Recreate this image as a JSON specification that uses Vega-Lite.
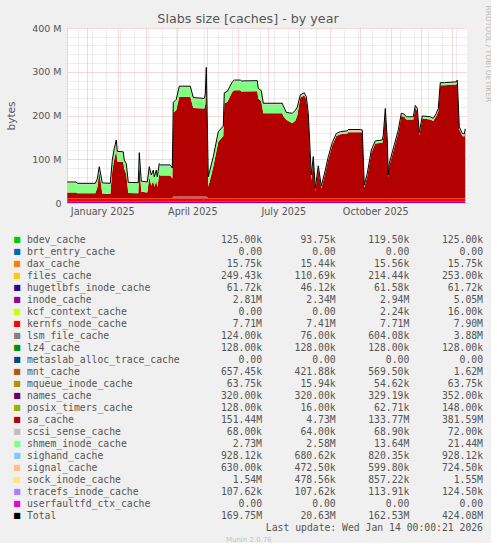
{
  "$schema": "https://vega.github.io/schema/vega-lite/v6.json",
  "background": "#F0F0F0",
  "padding": {"left": 6, "top": 5, "right": 0, "bottom": 0},
  "bounds": "flush",
  "spacing": 31,
  "title": {"text": "Munin 2.0.76", "orient": "bottom", "anchor": "middle", "fontSize": 7, "fontWeight": "normal", "color": "#C4C4C4", "offset": 3},
  "config": {"font": "DejaVu Sans", "view": {"stroke": null}},
  "vconcat": [
    {
      "width": 400,
      "height": 175,
      "view": {"fill": "#FFFFFF", "stroke": null},
      "title": {"text": "Slabs size [caches] - by year", "anchor": "middle", "frame": "group", "dx": -19, "offset": -21, "fontSize": 12.7, "fontWeight": "normal", "color": "#555555"},
      "data": {"values": [
        {"date":"2024-12-12","inode_cache":2.9,"kernfs_node_cache":7.7,"lsm_file_cache":0.1,"mnt_cache":0.6,"sa_cache":12.5,"shmem_inode_cache":21.4,"sighand_cache":0.8,"signal_cache":0.6,"sock_inode_cache":0.9,"total":48},
        {"date":"2024-12-21","inode_cache":2.9,"kernfs_node_cache":7.7,"lsm_file_cache":0.1,"mnt_cache":0.6,"sa_cache":12.5,"shmem_inode_cache":21.4,"sighand_cache":0.8,"signal_cache":0.6,"sock_inode_cache":0.9,"total":48},
        {"date":"2024-12-22","inode_cache":2.9,"kernfs_node_cache":7.7,"lsm_file_cache":0.1,"mnt_cache":0.6,"sa_cache":11.2,"shmem_inode_cache":19.7,"sighand_cache":0.8,"signal_cache":0.6,"sock_inode_cache":0.9,"total":45},
        {"date":"2025-01-09","inode_cache":2.9,"kernfs_node_cache":7.7,"lsm_file_cache":0.1,"mnt_cache":0.6,"sa_cache":11.2,"shmem_inode_cache":19.7,"sighand_cache":0.8,"signal_cache":0.6,"sock_inode_cache":0.9,"total":45},
        {"date":"2025-01-11","inode_cache":2.9,"kernfs_node_cache":7.7,"lsm_file_cache":0.1,"mnt_cache":0.6,"sa_cache":23.7,"shmem_inode_cache":17.2,"sighand_cache":0.8,"signal_cache":0.6,"sock_inode_cache":0.9,"total":55},
        {"date":"2025-01-13","inode_cache":2.9,"kernfs_node_cache":7.7,"lsm_file_cache":0.1,"mnt_cache":0.6,"sa_cache":60.9,"shmem_inode_cache":8,"sighand_cache":0.8,"signal_cache":0.6,"sock_inode_cache":0.9,"total":83},
        {"date":"2025-01-16","inode_cache":2.9,"kernfs_node_cache":7.7,"lsm_file_cache":0.1,"mnt_cache":0.6,"sa_cache":10.5,"shmem_inode_cache":21.4,"sighand_cache":0.8,"signal_cache":0.6,"sock_inode_cache":0.9,"total":46},
        {"date":"2025-01-24","inode_cache":2.9,"kernfs_node_cache":7.7,"lsm_file_cache":0.1,"mnt_cache":0.6,"sa_cache":9.5,"shmem_inode_cache":21.4,"sighand_cache":0.8,"signal_cache":0.6,"sock_inode_cache":0.9,"total":45},
        {"date":"2025-01-26","inode_cache":2.9,"kernfs_node_cache":7.7,"lsm_file_cache":0.1,"mnt_cache":0.6,"sa_cache":62.5,"shmem_inode_cache":21.4,"sighand_cache":0.8,"signal_cache":0.6,"sock_inode_cache":0.9,"total":98},
        {"date":"2025-01-28","inode_cache":2.9,"kernfs_node_cache":7.7,"lsm_file_cache":0.1,"mnt_cache":0.6,"sa_cache":89.5,"shmem_inode_cache":21.4,"sighand_cache":0.8,"signal_cache":0.6,"sock_inode_cache":0.9,"total":125},
        {"date":"2025-01-30","inode_cache":2.9,"kernfs_node_cache":7.7,"lsm_file_cache":0.1,"mnt_cache":0.6,"sa_cache":108.7,"shmem_inode_cache":21.2,"sighand_cache":0.8,"signal_cache":0.6,"sock_inode_cache":0.9,"total":144},
        {"date":"2025-01-31","inode_cache":2.9,"kernfs_node_cache":7.7,"lsm_file_cache":0.1,"mnt_cache":0.6,"sa_cache":83.7,"shmem_inode_cache":20.2,"sighand_cache":0.8,"signal_cache":0.6,"sock_inode_cache":0.9,"total":118},
        {"date":"2025-02-06","inode_cache":2.9,"kernfs_node_cache":7.7,"lsm_file_cache":0.1,"mnt_cache":0.6,"sa_cache":82.7,"shmem_inode_cache":20.2,"sighand_cache":0.8,"signal_cache":0.6,"sock_inode_cache":0.9,"total":117},
        {"date":"2025-02-07","inode_cache":2.9,"kernfs_node_cache":7.7,"lsm_file_cache":0.1,"mnt_cache":0.6,"sa_cache":66.7,"shmem_inode_cache":17.2,"sighand_cache":0.8,"signal_cache":0.6,"sock_inode_cache":0.9,"total":98},
        {"date":"2025-02-09","inode_cache":2.9,"kernfs_node_cache":7.7,"lsm_file_cache":0.1,"mnt_cache":0.6,"sa_cache":54.5,"shmem_inode_cache":21.4,"sighand_cache":0.8,"signal_cache":0.6,"sock_inode_cache":0.9,"total":90},
        {"date":"2025-02-11","inode_cache":2.9,"kernfs_node_cache":7.7,"lsm_file_cache":0.1,"mnt_cache":0.6,"sa_cache":11.5,"shmem_inode_cache":21.4,"sighand_cache":0.8,"signal_cache":0.6,"sock_inode_cache":0.9,"total":47},
        {"date":"2025-02-21","inode_cache":2.9,"kernfs_node_cache":7.7,"lsm_file_cache":0.1,"mnt_cache":0.6,"sa_cache":11.0,"shmem_inode_cache":21.4,"sighand_cache":0.8,"signal_cache":0.6,"sock_inode_cache":0.9,"total":46.5},
        {"date":"2025-02-22","inode_cache":2.9,"kernfs_node_cache":7.7,"lsm_file_cache":0.1,"mnt_cache":0.6,"sa_cache":79.5,"shmem_inode_cache":21.4,"sighand_cache":0.8,"signal_cache":0.6,"sock_inode_cache":0.9,"total":115},
        {"date":"2025-02-24","inode_cache":2.9,"kernfs_node_cache":7.7,"lsm_file_cache":0.1,"mnt_cache":0.6,"sa_cache":14.5,"shmem_inode_cache":21.4,"sighand_cache":0.8,"signal_cache":0.6,"sock_inode_cache":0.9,"total":50},
        {"date":"2025-03-02","inode_cache":2.9,"kernfs_node_cache":7.7,"lsm_file_cache":0.1,"mnt_cache":0.6,"sa_cache":12.5,"shmem_inode_cache":21.4,"sighand_cache":0.8,"signal_cache":0.6,"sock_inode_cache":0.9,"total":48},
        {"date":"2025-03-04","inode_cache":2.9,"kernfs_node_cache":7.7,"lsm_file_cache":0.1,"mnt_cache":0.6,"sa_cache":47.5,"shmem_inode_cache":21.4,"sighand_cache":0.8,"signal_cache":0.6,"sock_inode_cache":0.9,"total":83},
        {"date":"2025-03-06","inode_cache":2.9,"kernfs_node_cache":7.7,"lsm_file_cache":0.1,"mnt_cache":0.6,"sa_cache":28.5,"shmem_inode_cache":21.4,"sighand_cache":0.8,"signal_cache":0.6,"sock_inode_cache":0.9,"total":64},
        {"date":"2025-03-08","inode_cache":2.9,"kernfs_node_cache":7.7,"lsm_file_cache":0.1,"mnt_cache":0.6,"sa_cache":39.5,"shmem_inode_cache":21.4,"sighand_cache":0.8,"signal_cache":0.6,"sock_inode_cache":0.9,"total":75},
        {"date":"2025-03-09","inode_cache":2.9,"kernfs_node_cache":7.7,"lsm_file_cache":0.1,"mnt_cache":0.6,"sa_cache":25.7,"shmem_inode_cache":20.2,"sighand_cache":0.8,"signal_cache":0.6,"sock_inode_cache":0.9,"total":60},
        {"date":"2025-03-11","inode_cache":2.9,"kernfs_node_cache":7.7,"lsm_file_cache":0.1,"mnt_cache":0.6,"sa_cache":39.5,"shmem_inode_cache":21.4,"sighand_cache":0.8,"signal_cache":0.6,"sock_inode_cache":0.9,"total":75},
        {"date":"2025-03-12","inode_cache":2.9,"kernfs_node_cache":7.7,"lsm_file_cache":0.1,"mnt_cache":0.6,"sa_cache":24.7,"shmem_inode_cache":21.2,"sighand_cache":0.8,"signal_cache":0.6,"sock_inode_cache":0.9,"total":60},
        {"date":"2025-03-14","inode_cache":2.9,"kernfs_node_cache":7.7,"lsm_file_cache":0.1,"mnt_cache":0.6,"sa_cache":54.5,"shmem_inode_cache":21.4,"sighand_cache":0.8,"signal_cache":0.6,"sock_inode_cache":0.9,"total":90},
        {"date":"2025-03-15","inode_cache":2.9,"kernfs_node_cache":7.7,"lsm_file_cache":0.1,"mnt_cache":0.6,"sa_cache":51.5,"shmem_inode_cache":21.4,"sighand_cache":0.8,"signal_cache":0.6,"sock_inode_cache":0.9,"total":87},
        {"date":"2025-03-25","inode_cache":2.9,"kernfs_node_cache":7.7,"lsm_file_cache":0.1,"mnt_cache":0.6,"sa_cache":51.5,"shmem_inode_cache":21.4,"sighand_cache":0.8,"signal_cache":0.6,"sock_inode_cache":0.9,"total":87},
        {"date":"2025-03-27","inode_cache":2.9,"kernfs_node_cache":7.7,"lsm_file_cache":0.1,"mnt_cache":0.6,"sa_cache":44.5,"shmem_inode_cache":21.4,"sighand_cache":0.8,"signal_cache":0.6,"sock_inode_cache":0.9,"total":80},
        {"date":"2025-03-28","inode_cache":2.9,"kernfs_node_cache":7.7,"lsm_file_cache":3.8,"mnt_cache":0.6,"sa_cache":190.8,"shmem_inode_cache":21.4,"sighand_cache":0.8,"signal_cache":0.6,"sock_inode_cache":0.9,"total":230},
        {"date":"2025-03-31","inode_cache":2.9,"kernfs_node_cache":7.7,"lsm_file_cache":3.8,"mnt_cache":0.6,"sa_cache":197.8,"shmem_inode_cache":21.4,"sighand_cache":0.8,"signal_cache":0.6,"sock_inode_cache":0.9,"total":237},
        {"date":"2025-04-03","inode_cache":2.9,"kernfs_node_cache":7.7,"lsm_file_cache":3.8,"mnt_cache":0.6,"sa_cache":228,"shmem_inode_cache":21.2,"sighand_cache":0.8,"signal_cache":0.6,"sock_inode_cache":0.9,"total":267},
        {"date":"2025-04-14","inode_cache":2.9,"kernfs_node_cache":7.7,"lsm_file_cache":3.8,"mnt_cache":0.6,"sa_cache":228,"shmem_inode_cache":21.2,"sighand_cache":0.8,"signal_cache":0.6,"sock_inode_cache":0.9,"total":267},
        {"date":"2025-04-17","inode_cache":2.9,"kernfs_node_cache":7.7,"lsm_file_cache":3.8,"mnt_cache":0.6,"sa_cache":202,"shmem_inode_cache":21.2,"sighand_cache":0.8,"signal_cache":0.6,"sock_inode_cache":0.9,"total":241},
        {"date":"2025-04-28","inode_cache":2.9,"kernfs_node_cache":7.7,"lsm_file_cache":3.8,"mnt_cache":0.6,"sa_cache":201,"shmem_inode_cache":20.2,"sighand_cache":0.8,"signal_cache":0.6,"sock_inode_cache":0.9,"total":239},
        {"date":"2025-04-29","inode_cache":2.9,"kernfs_node_cache":7.7,"lsm_file_cache":3.8,"mnt_cache":0.6,"sa_cache":211,"shmem_inode_cache":20.2,"sighand_cache":0.8,"signal_cache":0.6,"sock_inode_cache":0.9,"total":249},
        {"date":"2025-04-30","inode_cache":2.9,"kernfs_node_cache":7.7,"lsm_file_cache":3.8,"mnt_cache":0.6,"sa_cache":270.8,"shmem_inode_cache":21.4,"sighand_cache":0.8,"signal_cache":0.6,"sock_inode_cache":0.9,"total":310},
        {"date":"2025-05-02","inode_cache":2.9,"kernfs_node_cache":7.7,"lsm_file_cache":0.1,"mnt_cache":0.6,"sa_cache":25.7,"shmem_inode_cache":20.2,"sighand_cache":0.8,"signal_cache":0.6,"sock_inode_cache":0.9,"total":60},
        {"date":"2025-05-07","inode_cache":2.9,"kernfs_node_cache":7.7,"lsm_file_cache":0.1,"mnt_cache":0.6,"sa_cache":71.7,"shmem_inode_cache":20.2,"sighand_cache":0.8,"signal_cache":0.6,"sock_inode_cache":0.9,"total":106},
        {"date":"2025-05-12","inode_cache":2.9,"kernfs_node_cache":7.7,"lsm_file_cache":0.1,"mnt_cache":0.6,"sa_cache":128.7,"shmem_inode_cache":20.2,"sighand_cache":0.8,"signal_cache":0.6,"sock_inode_cache":0.9,"total":163},
        {"date":"2025-05-17","inode_cache":2.9,"kernfs_node_cache":7.7,"lsm_file_cache":0.1,"mnt_cache":0.6,"sa_cache":141.7,"shmem_inode_cache":20.2,"sighand_cache":0.8,"signal_cache":0.6,"sock_inode_cache":0.9,"total":176},
        {"date":"2025-05-18","inode_cache":2.9,"kernfs_node_cache":7.7,"lsm_file_cache":0.1,"mnt_cache":0.6,"sa_cache":216.7,"shmem_inode_cache":21.2,"sighand_cache":0.8,"signal_cache":0.6,"sock_inode_cache":0.9,"total":252},
        {"date":"2025-05-21","inode_cache":2.9,"kernfs_node_cache":7.7,"lsm_file_cache":0.1,"mnt_cache":0.6,"sa_cache":219.7,"shmem_inode_cache":21.2,"sighand_cache":0.8,"signal_cache":0.6,"sock_inode_cache":0.9,"total":255},
        {"date":"2025-05-26","inode_cache":2.9,"kernfs_node_cache":7.7,"lsm_file_cache":0.1,"mnt_cache":0.6,"sa_cache":242.7,"shmem_inode_cache":20.2,"sighand_cache":0.8,"signal_cache":0.6,"sock_inode_cache":0.9,"total":277},
        {"date":"2025-05-28","inode_cache":2.9,"kernfs_node_cache":7.7,"lsm_file_cache":0.1,"mnt_cache":0.6,"sa_cache":246.7,"shmem_inode_cache":20.2,"sighand_cache":0.8,"signal_cache":0.6,"sock_inode_cache":0.9,"total":281},
        {"date":"2025-06-03","inode_cache":2.9,"kernfs_node_cache":7.7,"lsm_file_cache":0.1,"mnt_cache":0.6,"sa_cache":246.7,"shmem_inode_cache":20.2,"sighand_cache":0.8,"signal_cache":0.6,"sock_inode_cache":0.9,"total":281},
        {"date":"2025-06-04","inode_cache":2.9,"kernfs_node_cache":7.7,"lsm_file_cache":0.1,"mnt_cache":0.6,"sa_cache":243.7,"shmem_inode_cache":21.2,"sighand_cache":0.8,"signal_cache":0.6,"sock_inode_cache":0.9,"total":279},
        {"date":"2025-06-20","inode_cache":2.9,"kernfs_node_cache":7.7,"lsm_file_cache":0.1,"mnt_cache":0.6,"sa_cache":244.1,"shmem_inode_cache":21.4,"sighand_cache":0.8,"signal_cache":0.6,"sock_inode_cache":0.9,"total":279.6},
        {"date":"2025-06-21","inode_cache":2.9,"kernfs_node_cache":7.7,"lsm_file_cache":0.1,"mnt_cache":0.6,"sa_cache":227.7,"shmem_inode_cache":20.2,"sighand_cache":0.8,"signal_cache":0.6,"sock_inode_cache":0.9,"total":262},
        {"date":"2025-06-24","inode_cache":2.9,"kernfs_node_cache":7.7,"lsm_file_cache":0.1,"mnt_cache":0.6,"sa_cache":221.5,"shmem_inode_cache":21.4,"sighand_cache":0.8,"signal_cache":0.6,"sock_inode_cache":0.9,"total":257},
        {"date":"2025-06-26","inode_cache":2.9,"kernfs_node_cache":7.7,"lsm_file_cache":0.1,"mnt_cache":0.6,"sa_cache":193.7,"shmem_inode_cache":20.2,"sighand_cache":0.8,"signal_cache":0.6,"sock_inode_cache":0.9,"total":228},
        {"date":"2025-07-15","inode_cache":2.9,"kernfs_node_cache":7.7,"lsm_file_cache":0.1,"mnt_cache":0.6,"sa_cache":193.7,"shmem_inode_cache":20.2,"sighand_cache":0.8,"signal_cache":0.6,"sock_inode_cache":0.9,"total":228},
        {"date":"2025-07-16","inode_cache":2.9,"kernfs_node_cache":7.7,"lsm_file_cache":0.1,"mnt_cache":0.6,"sa_cache":187.7,"shmem_inode_cache":20.2,"sighand_cache":0.8,"signal_cache":0.6,"sock_inode_cache":0.9,"total":222},
        {"date":"2025-07-19","inode_cache":2.9,"kernfs_node_cache":7.7,"lsm_file_cache":0.1,"mnt_cache":0.6,"sa_cache":178.9,"shmem_inode_cache":14,"sighand_cache":0.8,"signal_cache":0.6,"sock_inode_cache":0.9,"total":207},
        {"date":"2025-07-25","inode_cache":2.9,"kernfs_node_cache":7.7,"lsm_file_cache":0.1,"mnt_cache":0.6,"sa_cache":170.9,"shmem_inode_cache":20,"sighand_cache":0.8,"signal_cache":0.6,"sock_inode_cache":0.9,"total":205},
        {"date":"2025-07-28","inode_cache":2.9,"kernfs_node_cache":7.7,"lsm_file_cache":0.1,"mnt_cache":0.6,"sa_cache":176.5,"shmem_inode_cache":21.4,"sighand_cache":0.8,"signal_cache":0.6,"sock_inode_cache":0.9,"total":212},
        {"date":"2025-07-30","inode_cache":2.9,"kernfs_node_cache":7.7,"lsm_file_cache":0.1,"mnt_cache":0.6,"sa_cache":188.9,"shmem_inode_cache":16,"sighand_cache":0.8,"signal_cache":0.6,"sock_inode_cache":0.9,"total":219},
        {"date":"2025-08-02","inode_cache":2.9,"kernfs_node_cache":7.7,"lsm_file_cache":0.1,"mnt_cache":0.6,"sa_cache":229.7,"shmem_inode_cache":3.2,"sighand_cache":0.8,"signal_cache":0.6,"sock_inode_cache":0.9,"total":247},
        {"date":"2025-08-06","inode_cache":2.9,"kernfs_node_cache":7.7,"lsm_file_cache":0.1,"mnt_cache":0.6,"sa_cache":234.7,"shmem_inode_cache":3.2,"sighand_cache":0.8,"signal_cache":0.6,"sock_inode_cache":0.9,"total":252},
        {"date":"2025-08-08","inode_cache":2.9,"kernfs_node_cache":7.7,"lsm_file_cache":0.1,"mnt_cache":0.6,"sa_cache":225.7,"shmem_inode_cache":3.2,"sighand_cache":0.8,"signal_cache":0.6,"sock_inode_cache":0.9,"total":243},
        {"date":"2025-08-10","inode_cache":2.9,"kernfs_node_cache":7.7,"lsm_file_cache":0.1,"mnt_cache":0.6,"sa_cache":187.7,"shmem_inode_cache":3.2,"sighand_cache":0.8,"signal_cache":0.6,"sock_inode_cache":0.9,"total":205},
        {"date":"2025-08-13","inode_cache":2.9,"kernfs_node_cache":7.7,"lsm_file_cache":0.1,"mnt_cache":0.6,"sa_cache":40.7,"shmem_inode_cache":9.2,"sighand_cache":0.8,"signal_cache":0.6,"sock_inode_cache":0.9,"total":64},
        {"date":"2025-08-15","inode_cache":2.9,"kernfs_node_cache":7.7,"lsm_file_cache":0.1,"mnt_cache":0.6,"sa_cache":88.7,"shmem_inode_cache":3.2,"sighand_cache":0.8,"signal_cache":0.6,"sock_inode_cache":0.9,"total":106},
        {"date":"2025-08-17","inode_cache":2.9,"kernfs_node_cache":7.7,"lsm_file_cache":0.1,"mnt_cache":0.6,"sa_cache":16.2,"shmem_inode_cache":3.2,"sighand_cache":0.8,"signal_cache":0.6,"sock_inode_cache":0.9,"total":33.5},
        {"date":"2025-08-20","inode_cache":2.9,"kernfs_node_cache":7.7,"lsm_file_cache":0.1,"mnt_cache":0.6,"sa_cache":67.7,"shmem_inode_cache":3.2,"sighand_cache":0.8,"signal_cache":0.6,"sock_inode_cache":0.9,"total":85},
        {"date":"2025-08-23","inode_cache":2.9,"kernfs_node_cache":7.7,"lsm_file_cache":0.1,"mnt_cache":0.6,"sa_cache":21.7,"shmem_inode_cache":3.2,"sighand_cache":0.8,"signal_cache":0.6,"sock_inode_cache":0.9,"total":39},
        {"date":"2025-08-27","inode_cache":2.9,"kernfs_node_cache":7.7,"lsm_file_cache":0.1,"mnt_cache":0.6,"sa_cache":57.7,"shmem_inode_cache":3.2,"sighand_cache":0.8,"signal_cache":0.6,"sock_inode_cache":0.9,"total":75},
        {"date":"2025-08-30","inode_cache":2.9,"kernfs_node_cache":7.7,"lsm_file_cache":0.1,"mnt_cache":0.6,"sa_cache":88.7,"shmem_inode_cache":3.2,"sighand_cache":0.8,"signal_cache":0.6,"sock_inode_cache":0.9,"total":106},
        {"date":"2025-09-03","inode_cache":2.9,"kernfs_node_cache":7.7,"lsm_file_cache":0.1,"mnt_cache":0.6,"sa_cache":120.7,"shmem_inode_cache":3.2,"sighand_cache":0.8,"signal_cache":0.6,"sock_inode_cache":0.9,"total":138},
        {"date":"2025-09-07","inode_cache":2.9,"kernfs_node_cache":7.7,"lsm_file_cache":0.1,"mnt_cache":0.6,"sa_cache":141.7,"shmem_inode_cache":3.2,"sighand_cache":0.8,"signal_cache":0.6,"sock_inode_cache":0.9,"total":159},
        {"date":"2025-09-11","inode_cache":2.9,"kernfs_node_cache":7.7,"lsm_file_cache":0.1,"mnt_cache":0.6,"sa_cache":145.7,"shmem_inode_cache":3.2,"sighand_cache":0.8,"signal_cache":0.6,"sock_inode_cache":0.9,"total":163},
        {"date":"2025-09-18","inode_cache":2.9,"kernfs_node_cache":7.7,"lsm_file_cache":0.1,"mnt_cache":0.6,"sa_cache":147.7,"shmem_inode_cache":3.2,"sighand_cache":0.8,"signal_cache":0.6,"sock_inode_cache":0.9,"total":165},
        {"date":"2025-09-19","inode_cache":2.9,"kernfs_node_cache":7.7,"lsm_file_cache":0.1,"mnt_cache":0.6,"sa_cache":150.7,"shmem_inode_cache":3.2,"sighand_cache":0.8,"signal_cache":0.6,"sock_inode_cache":0.9,"total":168},
        {"date":"2025-10-01","inode_cache":2.9,"kernfs_node_cache":7.7,"lsm_file_cache":0.1,"mnt_cache":0.6,"sa_cache":150.7,"shmem_inode_cache":3.2,"sighand_cache":0.8,"signal_cache":0.6,"sock_inode_cache":0.9,"total":168},
        {"date":"2025-10-03","inode_cache":2.9,"kernfs_node_cache":7.7,"lsm_file_cache":0.1,"mnt_cache":0.6,"sa_cache":149.7,"shmem_inode_cache":3.2,"sighand_cache":0.8,"signal_cache":0.6,"sock_inode_cache":0.9,"total":167},
        {"date":"2025-10-05","inode_cache":2.9,"kernfs_node_cache":7.7,"lsm_file_cache":0.1,"mnt_cache":0.6,"sa_cache":23.7,"shmem_inode_cache":3.2,"sighand_cache":0.8,"signal_cache":0.6,"sock_inode_cache":0.9,"total":41},
        {"date":"2025-10-08","inode_cache":2.9,"kernfs_node_cache":7.7,"lsm_file_cache":0.1,"mnt_cache":0.6,"sa_cache":50.7,"shmem_inode_cache":3.2,"sighand_cache":0.8,"signal_cache":0.6,"sock_inode_cache":0.9,"total":68},
        {"date":"2025-10-12","inode_cache":2.9,"kernfs_node_cache":7.7,"lsm_file_cache":0.1,"mnt_cache":0.6,"sa_cache":103.7,"shmem_inode_cache":3.2,"sighand_cache":0.8,"signal_cache":0.6,"sock_inode_cache":0.9,"total":121},
        {"date":"2025-10-16","inode_cache":2.9,"kernfs_node_cache":7.7,"lsm_file_cache":0.1,"mnt_cache":0.6,"sa_cache":124.7,"shmem_inode_cache":3.2,"sighand_cache":0.8,"signal_cache":0.6,"sock_inode_cache":0.9,"total":142},
        {"date":"2025-10-23","inode_cache":2.9,"kernfs_node_cache":7.7,"lsm_file_cache":0.1,"mnt_cache":0.6,"sa_cache":126.7,"shmem_inode_cache":3.2,"sighand_cache":0.8,"signal_cache":0.6,"sock_inode_cache":0.9,"total":144},
        {"date":"2025-10-24","inode_cache":2.9,"kernfs_node_cache":7.7,"lsm_file_cache":0.1,"mnt_cache":0.6,"sa_cache":137.7,"shmem_inode_cache":3.2,"sighand_cache":0.8,"signal_cache":0.6,"sock_inode_cache":0.9,"total":155},
        {"date":"2025-10-26","inode_cache":2.9,"kernfs_node_cache":7.7,"lsm_file_cache":0.1,"mnt_cache":0.6,"sa_cache":198.7,"shmem_inode_cache":3.2,"sighand_cache":0.8,"signal_cache":0.6,"sock_inode_cache":0.9,"total":216},
        {"date":"2025-10-28","inode_cache":2.9,"kernfs_node_cache":7.7,"lsm_file_cache":0.1,"mnt_cache":0.6,"sa_cache":126.7,"shmem_inode_cache":3.2,"sighand_cache":0.8,"signal_cache":0.6,"sock_inode_cache":0.9,"total":144},
        {"date":"2025-10-29","inode_cache":2.9,"kernfs_node_cache":7.7,"lsm_file_cache":0.1,"mnt_cache":0.6,"sa_cache":46.7,"shmem_inode_cache":3.2,"sighand_cache":0.8,"signal_cache":0.6,"sock_inode_cache":0.9,"total":64},
        {"date":"2025-10-30","inode_cache":2.9,"kernfs_node_cache":7.7,"lsm_file_cache":0.1,"mnt_cache":0.6,"sa_cache":73.7,"shmem_inode_cache":3.2,"sighand_cache":0.8,"signal_cache":0.6,"sock_inode_cache":0.9,"total":91},
        {"date":"2025-11-04","inode_cache":2.9,"kernfs_node_cache":7.7,"lsm_file_cache":0.1,"mnt_cache":0.6,"sa_cache":115.7,"shmem_inode_cache":3.2,"sighand_cache":0.8,"signal_cache":0.6,"sock_inode_cache":0.9,"total":133},
        {"date":"2025-11-08","inode_cache":2.9,"kernfs_node_cache":7.7,"lsm_file_cache":0.1,"mnt_cache":0.6,"sa_cache":149.7,"shmem_inode_cache":3.2,"sighand_cache":0.8,"signal_cache":0.6,"sock_inode_cache":0.9,"total":167},
        {"date":"2025-11-11","inode_cache":2.9,"kernfs_node_cache":7.7,"lsm_file_cache":0.1,"mnt_cache":0.6,"sa_cache":187.7,"shmem_inode_cache":3.2,"sighand_cache":0.8,"signal_cache":0.6,"sock_inode_cache":0.9,"total":205},
        {"date":"2025-11-14","inode_cache":2.9,"kernfs_node_cache":7.7,"lsm_file_cache":0.1,"mnt_cache":0.6,"sa_cache":185.7,"shmem_inode_cache":3.2,"sighand_cache":0.8,"signal_cache":0.6,"sock_inode_cache":0.9,"total":203},
        {"date":"2025-11-16","inode_cache":2.9,"kernfs_node_cache":7.7,"lsm_file_cache":0.1,"mnt_cache":0.6,"sa_cache":179.7,"shmem_inode_cache":3.2,"sighand_cache":0.8,"signal_cache":0.6,"sock_inode_cache":0.9,"total":197},
        {"date":"2025-11-23","inode_cache":2.9,"kernfs_node_cache":7.7,"lsm_file_cache":0.1,"mnt_cache":0.6,"sa_cache":179.7,"shmem_inode_cache":3.2,"sighand_cache":0.8,"signal_cache":0.6,"sock_inode_cache":0.9,"total":197},
        {"date":"2025-11-25","inode_cache":2.9,"kernfs_node_cache":7.7,"lsm_file_cache":0.1,"mnt_cache":0.6,"sa_cache":205.7,"shmem_inode_cache":3.2,"sighand_cache":0.8,"signal_cache":0.6,"sock_inode_cache":0.9,"total":223},
        {"date":"2025-11-27","inode_cache":2.9,"kernfs_node_cache":7.7,"lsm_file_cache":0.1,"mnt_cache":0.6,"sa_cache":198.7,"shmem_inode_cache":3.2,"sighand_cache":0.8,"signal_cache":0.6,"sock_inode_cache":0.9,"total":216},
        {"date":"2025-11-29","inode_cache":2.9,"kernfs_node_cache":7.7,"lsm_file_cache":0.1,"mnt_cache":0.6,"sa_cache":143.7,"shmem_inode_cache":3.2,"sighand_cache":0.8,"signal_cache":0.6,"sock_inode_cache":0.9,"total":161},
        {"date":"2025-12-02","inode_cache":2.9,"kernfs_node_cache":7.7,"lsm_file_cache":0.1,"mnt_cache":0.6,"sa_cache":181.7,"shmem_inode_cache":3.2,"sighand_cache":0.8,"signal_cache":0.6,"sock_inode_cache":0.9,"total":199},
        {"date":"2025-12-10","inode_cache":2.9,"kernfs_node_cache":7.7,"lsm_file_cache":0.1,"mnt_cache":0.6,"sa_cache":179.7,"shmem_inode_cache":3.2,"sighand_cache":0.8,"signal_cache":0.6,"sock_inode_cache":0.9,"total":197},
        {"date":"2025-12-13","inode_cache":2.9,"kernfs_node_cache":7.7,"lsm_file_cache":0.1,"mnt_cache":0.6,"sa_cache":176.2,"shmem_inode_cache":3.2,"sighand_cache":0.8,"signal_cache":0.6,"sock_inode_cache":0.9,"total":193.5},
        {"date":"2025-12-16","inode_cache":2.9,"kernfs_node_cache":7.7,"lsm_file_cache":0.1,"mnt_cache":0.6,"sa_cache":187.7,"shmem_inode_cache":3.2,"sighand_cache":0.8,"signal_cache":0.6,"sock_inode_cache":0.9,"total":205},
        {"date":"2025-12-18","inode_cache":2.9,"kernfs_node_cache":7.7,"lsm_file_cache":0.1,"mnt_cache":0.6,"sa_cache":198.7,"shmem_inode_cache":3.2,"sighand_cache":0.8,"signal_cache":0.6,"sock_inode_cache":0.9,"total":216},
        {"date":"2025-12-20","inode_cache":2.9,"kernfs_node_cache":7.7,"lsm_file_cache":0.1,"mnt_cache":0.6,"sa_cache":257.7,"shmem_inode_cache":3.2,"sighand_cache":0.8,"signal_cache":0.6,"sock_inode_cache":0.9,"total":275},
        {"date":"2025-12-24","inode_cache":2.9,"kernfs_node_cache":7.7,"lsm_file_cache":0.1,"mnt_cache":0.6,"sa_cache":257.7,"shmem_inode_cache":3.2,"sighand_cache":0.8,"signal_cache":0.6,"sock_inode_cache":0.9,"total":275},
        {"date":"2026-01-05","inode_cache":2.9,"kernfs_node_cache":7.7,"lsm_file_cache":0.1,"mnt_cache":0.6,"sa_cache":259.7,"shmem_inode_cache":3.2,"sighand_cache":0.8,"signal_cache":0.6,"sock_inode_cache":0.9,"total":277},
        {"date":"2026-01-06","inode_cache":2.9,"kernfs_node_cache":7.7,"lsm_file_cache":0.1,"mnt_cache":0.6,"sa_cache":263.7,"shmem_inode_cache":3.2,"sighand_cache":0.8,"signal_cache":0.6,"sock_inode_cache":0.9,"total":281},
        {"date":"2026-01-08","inode_cache":2.9,"kernfs_node_cache":7.7,"lsm_file_cache":0.1,"mnt_cache":0.6,"sa_cache":157.2,"shmem_inode_cache":3.2,"sighand_cache":0.8,"signal_cache":0.6,"sock_inode_cache":0.9,"total":174.5},
        {"date":"2026-01-11","inode_cache":2.9,"kernfs_node_cache":7.7,"lsm_file_cache":0.1,"mnt_cache":0.6,"sa_cache":141.7,"shmem_inode_cache":3.2,"sighand_cache":0.8,"signal_cache":0.6,"sock_inode_cache":0.9,"total":159},
        {"date":"2026-01-13","inode_cache":2.9,"kernfs_node_cache":7.7,"lsm_file_cache":0.1,"mnt_cache":0.6,"sa_cache":140.7,"shmem_inode_cache":3.2,"sighand_cache":0.8,"signal_cache":0.6,"sock_inode_cache":0.9,"total":158},
        {"date":"2026-01-14","inode_cache":2.8,"kernfs_node_cache":7.7,"lsm_file_cache":0.1,"mnt_cache":0.66,"sa_cache":151.4,"shmem_inode_cache":2.7,"sighand_cache":0.93,"signal_cache":0.63,"sock_inode_cache":1.54,"total":169.75}
      ]},
      "layer": [
        {
          "transform": [{"fold": ["inode_cache","kernfs_node_cache","lsm_file_cache","mnt_cache","sa_cache","shmem_inode_cache","sighand_cache","signal_cache","sock_inode_cache"], "as": ["series","value"]}],
          "mark": {"type": "area", "opacity": 1},
          "encoding": {
            "x": {"field": "date", "type": "temporal",
              "scale": {"type": "utc", "domain": [1733936400000, 1768496400000]},
              "axis": {"title": null, "labels": false, "ticks": false, "tickSize": 0,
                "domainColor": "#CFD6F8", "domainWidth": 1,
                "values": [1735689600000,1738368000000,1740787200000,1743465600000,1746057600000,1748736000000,1751328000000,1754006400000,1756684800000,1759276800000,1761955200000,1764547200000,1767225600000,
                  1734912000000,1736121600000,1737331200000,1738540800000,1739750400000,1740960000000,1742169600000,1743379200000,1744588800000,1745798400000,1747008000000,1748217600000,1749427200000,1750636800000,1751846400000,1753056000000,1754265600000,1755475200000,1757894400000,1759104000000,1760313600000,1761523200000,1762732800000,1763942400000,1765152000000,1766361600000,1767571200000],
                "grid": true, "gridDash": [1, 1], "gridWidth": 1,
                "gridColor": {"condition": {"test": "utcdate(datum.value) === 1", "value": "#EDB0B0"}, "value": "#DADADA"}}},
            "y": {"field": "value", "type": "quantitative", "stack": "zero",
              "scale": {"domain": [0, 400], "nice": false},
              "axis": {"title": "bytes", "titleFontSize": 10.5, "titleFontWeight": "normal", "titleColor": "#555555", "titlePadding": 15,
                "values": [0,20,40,60,80,100,120,140,160,180,200,220,240,260,280,300,320,340,360,380,400],
                "labelExpr": "datum.value % 100 === 0 ? (datum.value === 0 ? '0' : datum.value + ' M') : ''",
                "labelFontSize": 9.5, "labelColor": "#555555", "labelPadding": 6, "labelOverlap": false, "labelFlush": false,
                "ticks": false, "tickSize": 0,
                "domainColor": "#CFD6F8", "domainWidth": 1,
                "grid": true, "gridDash": [1, 1], "gridWidth": 1,
                "gridColor": {"condition": {"test": "datum.value % 100 === 0", "value": "#EDB0B0"}, "value": "#DADADA"}}},
            "color": {"field": "series", "type": "nominal", "legend": null,
              "scale": {
                "domain": ["bdev_cache","brt_entry_cache","dax_cache","files_cache","hugetlbfs_inode_cache","inode_cache","kcf_context_cache","kernfs_node_cache","lsm_file_cache","lz4_cache","metaslab_alloc_trace_cache","mnt_cache","mqueue_inode_cache","names_cache","posix_timers_cache","sa_cache","scsi_sense_cache","shmem_inode_cache","sighand_cache","signal_cache","sock_inode_cache","tracefs_inode_cache","userfaultfd_ctx_cache","Total"],
                "range": ["#00CC00","#0066B3","#FF8000","#FFCC00","#330099","#990099","#CCFF00","#FF0000","#808080","#008F00","#00487D","#B35A00","#B38F00","#6B006B","#8FB300","#B30000","#BEBEBE","#80FF80","#80C9FF","#FFC080","#FFE680","#AA80FF","#EE00CC","#000000"]}},
            "order": {"field": "series", "sort": "ascending"}
          }
        },
        {
          "mark": {"type": "line", "color": "#000000", "strokeWidth": 1},
          "encoding": {
            "x": {"field": "date", "type": "temporal",
              "axis": {"orient": "bottom", "title": null, "values": [1736985600000, 1744761600000, 1752624000000, 1760572800000],
                "format": "%B %Y", "labelFontSize": 9.6, "labelColor": "#555555", "labelPadding": 3, "labelFlush": false, "labelOverlap": false,
                "ticks": false, "tickSize": 0, "domain": false, "grid": false}},
            "y": {"field": "total", "type": "quantitative",
              "axis": {"orient": "right", "labels": false, "ticks": false, "tickSize": 0, "domain": false, "grid": false,
                "title": "RRDTOOL / TOBI OETIKER", "titleFontSize": 7.5, "titleFontWeight": "normal", "titleColor": "#BBBBBB",
                "titleAngle": 90, "titleX": 20, "titleY": -23, "titleAlign": "left", "titleBaseline": "middle"}}
          }
        }
      ],
      "resolve": {"axis": {"x": "independent", "y": "independent"}}
    },
    {
      "width": 416,
      "height": 288,
      "title": {"text": "Last update: Wed Jan 14 00:00:21 2026", "orient": "bottom", "anchor": "end", "frame": "group", "offset": 1,
        "font": "DejaVu Sans Mono", "fontSize": 9.75, "fontWeight": "normal", "color": "#555555"},
      "data": {"values": [
        {"name":"bdev_cache","Cur":"125.00k","Min":"93.75k","Avg":"119.50k","Max":"125.00k"},
        {"name":"brt_entry_cache","Cur":"0.00","Min":"0.00","Avg":"0.00","Max":"0.00"},
        {"name":"dax_cache","Cur":"15.75k","Min":"15.44k","Avg":"15.56k","Max":"15.75k"},
        {"name":"files_cache","Cur":"249.43k","Min":"110.69k","Avg":"214.44k","Max":"253.00k"},
        {"name":"hugetlbfs_inode_cache","Cur":"61.72k","Min":"46.12k","Avg":"61.58k","Max":"61.72k"},
        {"name":"inode_cache","Cur":"2.81M","Min":"2.34M","Avg":"2.94M","Max":"5.05M"},
        {"name":"kcf_context_cache","Cur":"0.00","Min":"0.00","Avg":"2.24k","Max":"16.00k"},
        {"name":"kernfs_node_cache","Cur":"7.71M","Min":"7.41M","Avg":"7.71M","Max":"7.90M"},
        {"name":"lsm_file_cache","Cur":"124.00k","Min":"76.00k","Avg":"604.08k","Max":"3.88M"},
        {"name":"lz4_cache","Cur":"128.00k","Min":"128.00k","Avg":"128.00k","Max":"128.00k"},
        {"name":"metaslab_alloc_trace_cache","Cur":"0.00","Min":"0.00","Avg":"0.00","Max":"0.00"},
        {"name":"mnt_cache","Cur":"657.45k","Min":"421.88k","Avg":"569.50k","Max":"1.62M"},
        {"name":"mqueue_inode_cache","Cur":"63.75k","Min":"15.94k","Avg":"54.62k","Max":"63.75k"},
        {"name":"names_cache","Cur":"320.00k","Min":"320.00k","Avg":"329.19k","Max":"352.00k"},
        {"name":"posix_timers_cache","Cur":"128.00k","Min":"16.00k","Avg":"62.71k","Max":"148.00k"},
        {"name":"sa_cache","Cur":"151.44M","Min":"4.73M","Avg":"133.77M","Max":"381.59M"},
        {"name":"scsi_sense_cache","Cur":"68.00k","Min":"64.00k","Avg":"68.90k","Max":"72.00k"},
        {"name":"shmem_inode_cache","Cur":"2.73M","Min":"2.58M","Avg":"13.64M","Max":"21.44M"},
        {"name":"sighand_cache","Cur":"928.12k","Min":"680.62k","Avg":"820.35k","Max":"928.12k"},
        {"name":"signal_cache","Cur":"630.00k","Min":"472.50k","Avg":"599.80k","Max":"724.50k"},
        {"name":"sock_inode_cache","Cur":"1.54M","Min":"478.56k","Avg":"857.22k","Max":"1.55M"},
        {"name":"tracefs_inode_cache","Cur":"107.62k","Min":"107.62k","Avg":"113.91k","Max":"124.50k"},
        {"name":"userfaultfd_ctx_cache","Cur":"0.00","Min":"0.00","Avg":"0.00","Max":"0.00"},
        {"name":"Total","Cur":"169.75M","Min":"20.63M","Avg":"162.53M","Max":"424.08M"}
      ]},
      "encoding": {
        "y": {"field": "name", "type": "nominal", "axis": null,
          "scale": {"type": "point", "padding": 0.5,
            "domain": ["bdev_cache","brt_entry_cache","dax_cache","files_cache","hugetlbfs_inode_cache","inode_cache","kcf_context_cache","kernfs_node_cache","lsm_file_cache","lz4_cache","metaslab_alloc_trace_cache","mnt_cache","mqueue_inode_cache","names_cache","posix_timers_cache","sa_cache","scsi_sense_cache","shmem_inode_cache","sighand_cache","signal_cache","sock_inode_cache","tracefs_inode_cache","userfaultfd_ctx_cache","Total"]}}
      },
      "layer": [
        {
          "transform": [{"fold": ["Cur","Min","Avg","Max"], "as": ["stat","val"]}],
          "mark": {"type": "text", "align": "right", "baseline": "middle", "font": "DejaVu Sans Mono", "fontSize": 9.75, "color": "#555555"},
          "encoding": {
            "x": {"field": "stat", "type": "nominal",
              "scale": {"type": "point", "domain": ["Cur","Min","Avg","Max"], "range": [195, 416], "padding": 0},
              "axis": {"orient": "top", "title": null, "labelExpr": "datum.value + ':'", "labelAngle": 0,
                "labelFont": "DejaVu Sans Mono", "labelFontSize": 9.75, "labelColor": "#555555",
                "labelAlign": "right", "labelOffset": -13, "labelPadding": 2,
                "ticks": false, "tickSize": 0, "domain": false, "grid": false}},
            "text": {"field": "val", "type": "nominal"}
          }
        },
        {
          "mark": {"type": "text", "text": "■", "dx": -245, "align": "center", "baseline": "middle", "font": "DejaVu Sans", "fontSize": 8},
          "encoding": {
            "x": {"datum": "Cur", "type": "nominal", "axis": null},
            "color": {"field": "name", "type": "nominal", "legend": null,
              "scale": {
                "domain": ["bdev_cache","brt_entry_cache","dax_cache","files_cache","hugetlbfs_inode_cache","inode_cache","kcf_context_cache","kernfs_node_cache","lsm_file_cache","lz4_cache","metaslab_alloc_trace_cache","mnt_cache","mqueue_inode_cache","names_cache","posix_timers_cache","sa_cache","scsi_sense_cache","shmem_inode_cache","sighand_cache","signal_cache","sock_inode_cache","tracefs_inode_cache","userfaultfd_ctx_cache","Total"],
                "range": ["#00CC00","#0066B3","#FF8000","#FFCC00","#330099","#990099","#CCFF00","#FF0000","#808080","#008F00","#00487D","#B35A00","#B38F00","#6B006B","#8FB300","#B30000","#BEBEBE","#80FF80","#80C9FF","#FFC080","#FFE680","#AA80FF","#EE00CC","#000000"]}}
          }
        },
        {
          "mark": {"type": "text", "dx": -235, "align": "left", "baseline": "middle", "font": "DejaVu Sans Mono", "fontSize": 9.75, "color": "#555555"},
          "encoding": {
            "x": {"datum": "Cur", "type": "nominal", "axis": null},
            "text": {"field": "name", "type": "nominal"}
          }
        }
      ]
    }
  ]
}
